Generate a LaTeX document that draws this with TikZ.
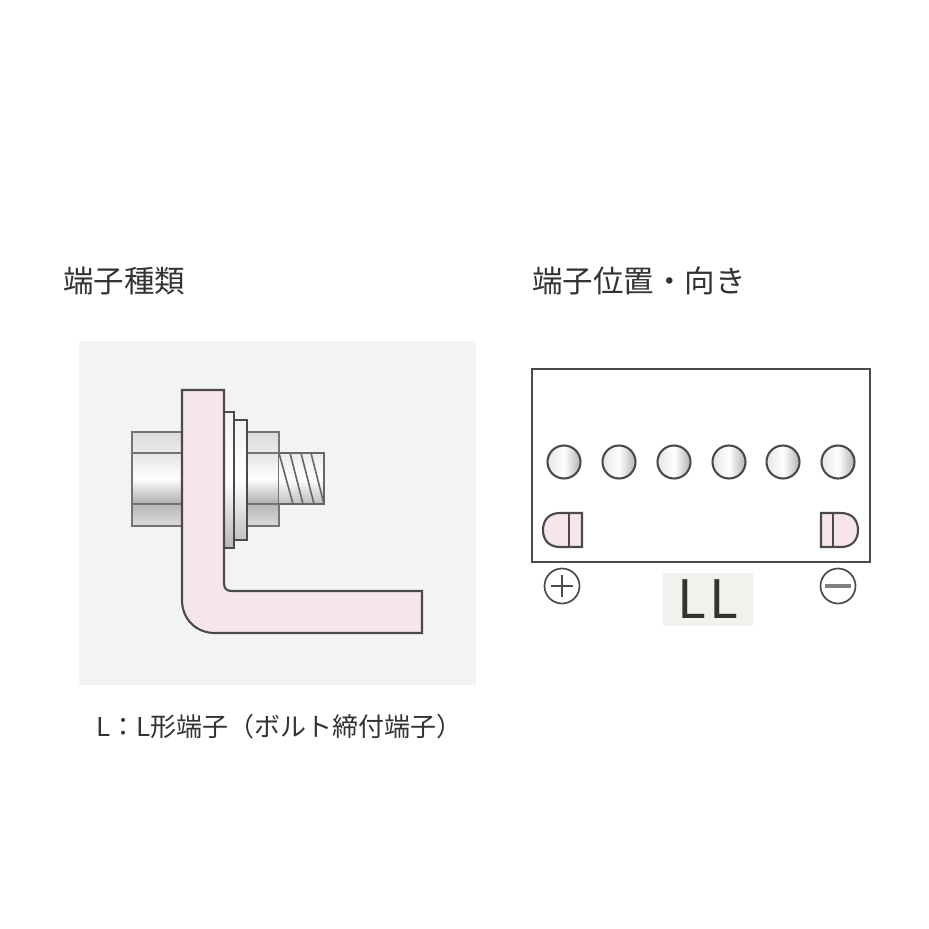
\documentclass[tikz,border=0pt]{standalone}
\usepackage{fontspec}
\setmainfont{Liberation Sans}
\newfontfamily\jp{Noto Sans CJK JP}
\definecolor{panel}{HTML}{F1F3F5}
\definecolor{pinkfill}{HTML}{F6E6EA}
\definecolor{ink}{HTML}{4A4A4A}
\definecolor{txt}{HTML}{333333}
\definecolor{lbl}{HTML}{F3F1ED}
\tikzset{
  part/.style={draw=ink,line width=2.1pt,line join=miter},
  post/.style={part,circle,minimum size=33pt,inner sep=0pt,left color=black!10,right color=black!30,middle color=white},
  title/.style={font=\jp\fontsize{30.5}{32}\selectfont,text=txt,inner sep=0pt},
  captext/.style={font=\jp\fontsize{26}{28}\selectfont,text=txt,inner sep=0pt},
  sign/.style={draw=ink,line width=1.7pt,circle,minimum size=35pt,inner sep=0pt}
}
\begin{document}
\begin{tikzpicture}[x=1pt,y=-1pt]
\useasboundingbox (0,0) rectangle (929,929);
\fill[white] (0,0) rectangle (929,929);
\node[title,anchor=west] (t1) at (63,281) {端子種類};
\node[title,anchor=west] (t2) at (532,281) {端子位置・向き};
\fill[panel] (79,341) rectangle (476,685);
% bolt body and nuts
\draw[part,draw=black!55,top color=black!14,bottom color=black!8] (132,432) rectangle (182,453);
\draw[part,draw=black!55,top color=black!28,bottom color=black!14] (132,504) rectangle (182,526);
\draw[part,draw=black!55,top color=black!10,bottom color=black!32,middle color=white] (132,453) rectangle (182,504);
\draw[part,draw=black!55,top color=black!14,bottom color=black!8] (247,432) rectangle (279,453);
\draw[part,draw=black!55,top color=black!28,bottom color=black!14] (247,504) rectangle (279,526);
\draw[part,draw=black!55,top color=black!10,bottom color=black!32,middle color=white] (247,453) rectangle (279,504);
% thread
\path[top color=black!8,bottom color=black!25,middle color=white] (279,453) rectangle (324,504);
\draw[part,draw=black!60,line width=1.8pt] (279,453) -- (324,453) -- (324,504) -- (279,504);
\foreach \a/\b in {279/293,290/303,301/314,311/324}
  \draw[black!60,line width=1.6pt] (\a,453) -- (\b,504);
% washers
\draw[part,top color=black!5,bottom color=black!28,middle color=white] (224,412) rectangle (234,548);
\draw[part,top color=black!5,bottom color=black!24,middle color=white] (234,420) rectangle (247,540);
% L plate
\draw[part,fill=pinkfill] (182,390) -- (224,390) -- (224,583)
  .. controls (224,589) and (227,591) .. (232,591) -- (422,591) -- (422,633) -- (215,633)
  .. controls (196,633) and (182,619) .. (182,600) -- cycle;
\node[captext,anchor=west] (c1) at (96,727) {L：L形端子（ボルト締付端子）};
% battery
\draw[line width=2.6pt,draw=ink,fill=white] (532,369) rectangle (870,562);
\foreach \n/\x in {a/564,b/619,c/674,d/729,e/783,f/838}
  \node[post] (p\n) at (\x,462) {};
\draw[part,fill=pinkfill] (582,513) -- (582,547) -- (560,547)
  .. controls (549,547) and (543,540) .. (543,530) .. controls (543,520) and (549,513) .. (560,513) -- cycle;
\draw[part] (569,513) -- (569,547);
\draw[part,fill=pinkfill] (821,513) -- (821,547) -- (841,547)
  .. controls (852,547) and (858,540) .. (858,530) .. controls (858,520) and (852,513) .. (841,513) -- cycle;
\draw[part] (833,513) -- (833,547);
% signs
\node[sign] (plus) at (562,586) {};
\draw[ink,line width=2.6pt] (551,586) -- (573,586) (562,575) -- (562,597);
\node[sign] (minus) at (838,586) {};
\draw[black!50,line width=3.2pt] (825,586) -- (851,586);
\node[fill=lbl,minimum width=90pt,minimum height=53pt,inner sep=0pt] (ll) at (708,599.5) {};
\node[font=\jp\fontsize{53}{55}\selectfont,text=txt,inner sep=0pt] (lltext) at (708,599) {L\kern3pt L};
\end{tikzpicture}
\end{document}
